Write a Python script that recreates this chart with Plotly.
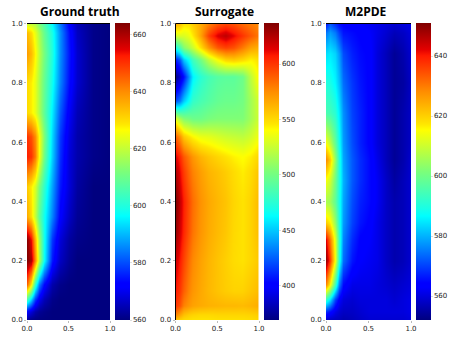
import plotly.graph_objects as go

W, H = 455, 342

jet = [[0, "#00007f"], [0.11, "#0000ff"], [0.125, "#0000ff"], [0.35, "#00ffff"], [0.375, "#19ffe6"],
       [0.5, "#7cff79"], [0.64, "#ffff00"], [0.66, "#ffe600"], [0.77, "#ff8c00"], [0.89, "#ff1a00"],
       [0.91, "#e40000"], [1, "#7f0000"]]

titles = ["Ground truth", "Surrogate", "M2PDE"]
axis_ticks = [0.0, 0.5, 1.0]
y_ticks = [0.0, 0.2, 0.4, 0.6, 0.8, 1.0]

# values, rows go bottom to top
truth_x = [0, 0.05, 0.1, 0.15, 0.2, 0.3, 0.4, 0.5, 0.6, 0.8, 1]
truth_y = [0, 0.03, 0.07, 0.12, 0.2, 0.27, 0.35, 0.45, 0.55, 0.62, 0.7, 0.8, 0.9, 0.97, 1]
truth_z = [
    [561, 560, 560, 560, 560, 560, 560, 560, 560, 560, 560],
    [572, 568, 564, 562, 561, 560, 560, 560, 560, 560, 560],
    [604, 592, 578, 570, 565, 561, 560, 560, 560, 560, 560],
    [644, 628, 602, 584, 573, 564, 561, 560, 560, 560, 560],
    [664, 660, 640, 618, 597, 575, 566, 562, 560, 560, 560],
    [663, 654, 635, 616, 598, 578, 568, 563, 561, 560, 560],
    [636, 630, 620, 608, 598, 585, 572, 566, 562, 560, 560],
    [632, 628, 622, 612, 602, 588, 575, 568, 563, 560, 560],
    [652, 650, 642, 626, 610, 592, 577, 568, 564, 561, 560],
    [650, 647, 640, 626, 612, 593, 578, 569, 564, 561, 560],
    [630, 628, 624, 617, 608, 595, 581, 571, 565, 561, 560],
    [630, 628, 624, 617, 609, 598, 585, 574, 567, 561, 560],
    [638, 634, 627, 619, 611, 600, 586, 575, 567, 561, 560],
    [634, 630, 624, 617, 609, 599, 586, 574, 566, 561, 560],
    [620, 620, 618, 612, 606, 596, 584, 572, 565, 561, 560],
]

surrogate_x = [0, 0.05, 0.1, 0.15, 0.2, 0.3, 0.4, 0.5, 0.6, 0.7, 0.8, 0.9, 1]
surrogate_y = [0, 0.02, 0.05, 0.1, 0.2, 0.3, 0.4, 0.5, 0.55, 0.62, 0.68, 0.74, 0.82, 0.88, 0.92, 0.96, 1]
surrogate_z = [
    [552, 550, 548, 547, 546, 546, 546, 547, 547, 547, 547, 548, 550],
    [578, 568, 558, 554, 552, 550, 550, 551, 551, 551, 551, 552, 554],
    [600, 592, 578, 572, 568, 565, 563, 562, 561, 561, 560, 562, 565],
    [608, 600, 588, 578, 572, 566, 561, 557, 554, 552, 552, 556, 560],
    [618, 608, 596, 584, 576, 568, 562, 557, 553, 549, 547, 551, 556],
    [632, 618, 604, 592, 582, 572, 565, 560, 556, 550, 547, 552, 560],
    [637, 622, 606, 594, 584, 573, 566, 561, 557, 551, 547, 552, 561],
    [626, 612, 598, 586, 578, 569, 562, 558, 554, 549, 544, 549, 558],
    [614, 604, 590, 580, 572, 562, 556, 551, 547, 543, 540, 544, 552],
    [588, 574, 556, 548, 542, 535, 533, 529, 526, 524, 522, 527, 538],
    [532, 516, 505, 502, 498, 498, 502, 504, 504, 504, 504, 514, 528],
    [420, 430, 450, 465, 478, 485, 490, 495, 497, 497, 500, 514, 530],
    [372, 385, 405, 435, 460, 475, 484, 490, 492, 492, 498, 522, 545],
    [410, 422, 450, 465, 482, 500, 522, 540, 552, 555, 550, 543, 548],
    [470, 485, 505, 515, 525, 548, 572, 590, 596, 592, 580, 568, 563],
    [528, 530, 530, 535, 545, 568, 597, 615, 622, 612, 600, 590, 580],
    [565, 560, 548, 548, 555, 565, 578, 590, 595, 592, 585, 580, 575],
]

m2pde_x = [0, 0.05, 0.1, 0.15, 0.2, 0.3, 0.4, 0.5, 0.6, 0.7, 0.8, 0.9, 1]
m2pde_y = [0, 0.03, 0.07, 0.12, 0.2, 0.27, 0.33, 0.4, 0.47, 0.54, 0.6, 0.7, 0.8, 0.9, 0.97, 1]
m2pde_z = [
    [557, 557, 557, 557, 556, 557, 558, 559, 559, 559, 559, 559, 560],
    [568, 565, 561, 559, 558, 558, 559, 560, 560, 560, 560, 560, 561],
    [592, 584, 570, 563, 560, 559, 560, 560, 560, 560, 559, 560, 561],
    [628, 615, 594, 575, 565, 561, 561, 561, 560, 559, 558, 559, 560],
    [649, 636, 614, 590, 574, 566, 563, 562, 561, 558, 556, 557, 559],
    [642, 630, 612, 592, 576, 568, 564, 563, 561, 558, 556, 557, 559],
    [620, 616, 604, 590, 578, 570, 566, 564, 561, 558, 556, 557, 559],
    [606, 605, 598, 589, 579, 571, 567, 565, 562, 558, 556, 557, 559],
    [614, 610, 600, 590, 580, 572, 568, 565, 562, 558, 555, 557, 559],
    [628, 620, 604, 590, 579, 572, 568, 565, 561, 557, 554, 556, 559],
    [614, 608, 598, 588, 578, 571, 567, 564, 560, 557, 554, 556, 558],
    [595, 594, 591, 585, 577, 570, 567, 564, 560, 557, 554, 556, 558],
    [590, 589, 586, 581, 574, 569, 566, 564, 560, 557, 554, 555, 558],
    [584, 585, 583, 578, 571, 567, 565, 564, 560, 557, 554, 556, 559],
    [575, 578, 575, 570, 566, 565, 564, 563, 561, 559, 557, 558, 560],
    [566, 572, 568, 565, 564, 563, 563, 562, 561, 560, 559, 560, 561],
]

z_limits = [(560, 664), (369, 637), (552, 651)]
cbar_ticks = [[560, 580, 600, 620, 640, 660], [400, 450, 500, 550, 600], [560, 580, 600, 620, 640]]
grids = [(truth_x, truth_y, truth_z), (surrogate_x, surrogate_y, surrogate_z), (m2pde_x, m2pde_y, m2pde_z)]

panel_left = [27, 175.5, 326]
panel_right = [110, 259, 411]
cbar_left = [115, 264, 416]
title_center = [80, 224, 366]
top, bottom = 23.5, 320
title_y = 11

font = dict(family="DejaVu Sans", size=7, color="#222222")
fig = go.Figure()

for i in range(3):
    xs, ys, zs = grids[i]
    ax = "" if i == 0 else str(i + 1)
    fig.add_trace(go.Heatmap(
        x=xs, y=ys, z=zs, xaxis="x" + ax, yaxis="y" + ax,
        zmin=z_limits[i][0], zmax=z_limits[i][1],
        colorscale=jet, zsmooth="best",
        colorbar=dict(
            x=cbar_left[i] / W, xanchor="left", xpad=0, ypad=0,
            y=(H - bottom) / H, yanchor="bottom", len=(bottom - top) / H, lenmode="fraction",
            thickness=15, thicknessmode="pixels", outlinewidth=0,
            tickmode="array", tickvals=cbar_ticks[i], ticks="outside", ticklen=2,
            tickcolor="#dddddd", tickwidth=1, tickfont=font,
        ),
    ))
    axis_x = dict(domain=[panel_left[i] / W, panel_right[i] / W], range=[0, 1], anchor="y" + ax, automargin=False,
                  tickvals=axis_ticks, ticktext=["0.0", "0.5", "1.0"], ticks="outside", ticklen=2,
                  tickcolor="#bbbbbb", tickfont=font, showgrid=False, zeroline=False, showline=False)
    axis_y = dict(domain=[(H - bottom) / H, (H - top) / H], range=[0, 1], anchor="x" + ax, automargin=False,
                  tickvals=y_ticks, ticktext=["0.0", "0.2", "0.4", "0.6", "0.8", "1.0"], ticks="outside", ticklen=2,
                  tickcolor="#bbbbbb", tickfont=font, showgrid=False, zeroline=False, showline=False)
    fig.update_layout({"xaxis" + ax: axis_x, "yaxis" + ax: axis_y})
    fig.add_annotation(x=title_center[i] / W, y=(H - title_y) / H, xref="paper", yref="paper",
                       xanchor="center", yanchor="middle",
                       text="<b>%s</b>" % titles[i], showarrow=False,
                       font=dict(family="Open Sans", size=12, color="black"))
    # black top edge like the original frame
    fig.add_shape(type="line", xref="paper", yref="paper", x0=panel_left[i] / W, x1=panel_right[i] / W,
                  y0=(H - top) / H, y1=(H - top) / H, line=dict(color="black", width=1))

# only the middle panel shows a dark left edge
fig.add_shape(type="line", xref="paper", yref="paper", x0=panel_left[1] / W, x1=panel_left[1] / W,
              y0=(H - bottom) / H, y1=(H - top) / H, line=dict(color="black", width=1))

fig.update_layout(width=W, height=H, margin=dict(l=0, r=0, t=0, b=0), paper_bgcolor="white",
                  plot_bgcolor="white")
# drop the browser's default body margin so the figure fills the window
fig.write_html("out.html", config={"displayModeBar": False}, post_script="document.body.style.margin = '0';")
